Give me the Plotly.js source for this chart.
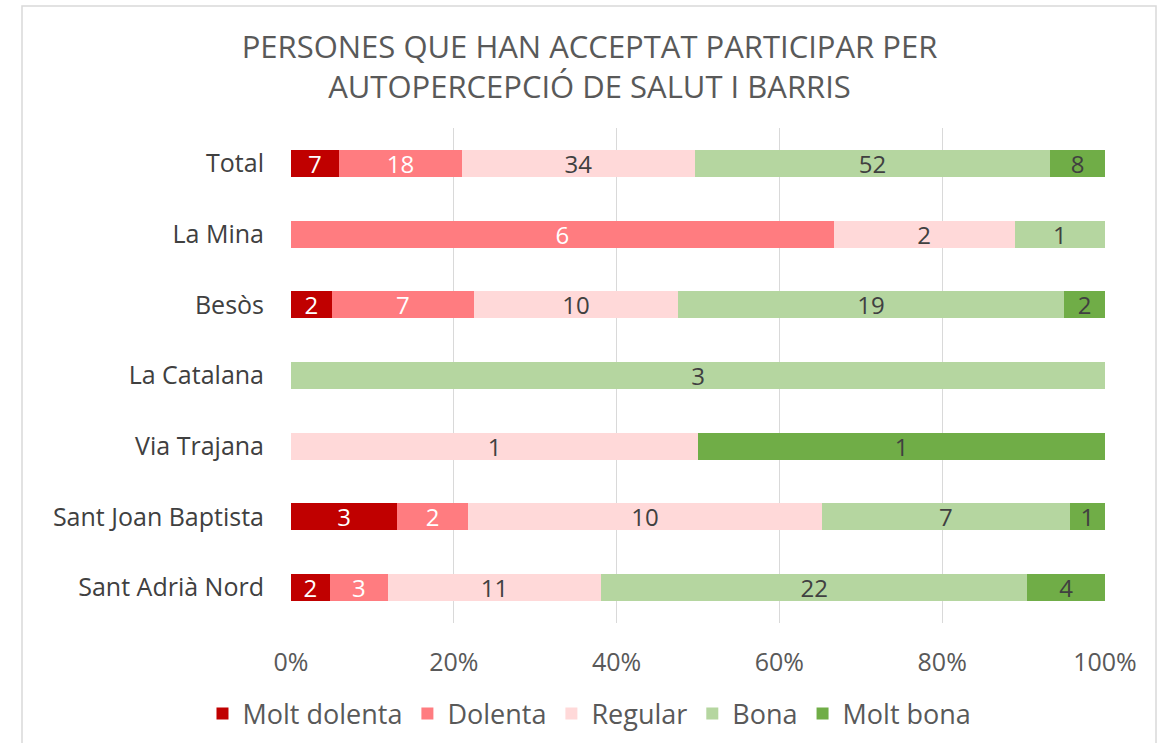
<!DOCTYPE html>
<html><head><meta charset="utf-8">
<script src="https://cdn.plot.ly/plotly-3.0.1.min.js"></script>
<style>html,body{margin:0;padding:0;background:#fff}#c{width:1165px;height:743px}</style>
</head><body><div id="c"></div>
<script>
var categories = ["Total","La Mina","Besòs","La Catalana","Via Trajana","Sant Joan Baptista","Sant Adrià Nord"];
var seriesNames = ["Molt dolenta","Dolenta","Regular","Bona","Molt bona"];
var moltDolenta = [7,0,2,0,0,3,2];
var dolenta     = [18,6,7,0,0,2,3];
var regular     = [34,2,10,0,1,10,11];
var bona        = [52,1,19,3,0,7,22];
var moltBona    = [8,0,2,0,1,1,4];
var xTicks = [0,0.2,0.4,0.6,0.8,1.0];
var xTickLabels = ["0%","20%","40%","60%","80%","100%"];

var colors = ["#C00000","#FF7C80","#FFD9D9","#B5D6A0","#70AD47"];
var textColors = ["#FFFFFF","#FFFFFF","#404040","#404040","#404040"];
var allSeries = [moltDolenta,dolenta,regular,bona,moltBona];
var totals = categories.map(function(_,i){return allSeries.reduce(function(s,a){return s+a[i];},0);});
var F = "Open Sans, sans-serif";

var traces = allSeries.map(function(vals,k){
  return {
    type:"bar", orientation:"h", name:seriesNames[k],
    y:categories,
    x:vals.map(function(v,i){return v/totals[i];}),
    text:vals.map(function(v){return v>0?String(v):"";}),
    textposition:"inside", insidetextanchor:"middle", textangle:0,
    textfont:{family:F, size:24, color:textColors[k]},
    constraintext:"none",
    marker:{color:colors[k], line:{width:0}},
    hoverinfo:"skip"
  };
});

var layout = {
  width:1165, height:743,
  margin:{l:291, r:60, t:128, b:120},
  barmode:"stack", bargap:0.62,
  paper_bgcolor:"#fff", plot_bgcolor:"#fff",
  font:{family:F, color:"#404040"},
  title:{text:"PERSONES QUE HAN ACCEPTAT PARTICIPAR PER<br>AUTOPERCEPCIÓ DE SALUT I BARRIS",
    font:{family:F, size:31, color:"#595959"},
    x:0.506, xanchor:"center", y:1-58/743, yanchor:"middle", xref:"container", yref:"container"},
  xaxis:{range:[0,1], tickvals:xTicks, ticktext:xTickLabels, showgrid:true, gridcolor:"#D9D9D9", gridwidth:1,
    zeroline:false, showline:false, ticks:"", tickfont:{family:F, size:25, color:"#595959"}, ticklabelstandoff:22, fixedrange:true},
  yaxis:{autorange:"reversed", categoryorder:"array", categoryarray:categories, showgrid:false, zeroline:false,
    showline:false, ticks:"", tickfont:{family:F, size:25, color:"#404040"}, ticklabelstandoff:26},
  legend:{orientation:"h", x:0.506, xanchor:"center", xref:"container", y:(743-714)/743, yref:"container", yanchor:"middle",
    font:{family:F, size:27, color:"#595959"}, itemwidth:30, traceorder:"normal", itemclick:false},
  shapes:[{type:"rect", xref:"paper", yref:"paper", x0:(22-291)/814, x1:(1156-291)/814, y0:(623-746)/495, y1:(623-6)/495,
    line:{color:"#D9D9D9", width:1.5}, fillcolor:"rgba(0,0,0,0)", layer:"below"}],
  showlegend:true
};
Plotly.newPlot("c", traces, layout, {displayModeBar:false, staticPlot:true});
</script></body></html>
